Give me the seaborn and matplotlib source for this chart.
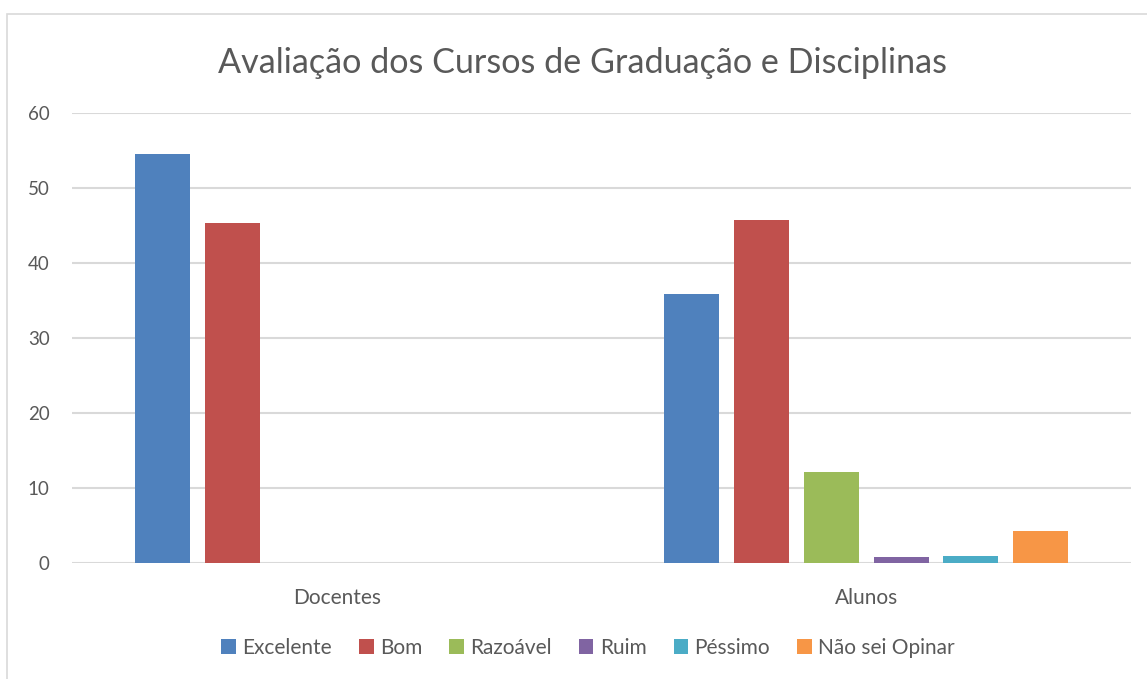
import pandas as pd
import matplotlib.pyplot as plt
import seaborn as sns
from matplotlib.patches import Rectangle

# Data
grupos = ["Docentes", "Alunos"]
respostas = ["Excelente", "Bom", "Razoável", "Ruim", "Péssimo", "Não sei Opinar"]
docentes = [54.5, 45.4, 0, 0, 0, 0]
alunos = [35.9, 45.8, 12.1, 0.8, 0.9, 4.3]
cores = ["#4f81bd", "#c0504d", "#9bbb59", "#8064a2", "#4bacc6", "#f79646"]

df = pd.DataFrame({
    "grupo": [grupos[0]] * len(respostas) + [grupos[1]] * len(respostas),
    "resposta": respostas * 2,
    "valor": docentes + alunos,
})

sns.set_style("white")
plt.rcParams["font.family"] = ["Lato", "DejaVu Sans"]
texto = "#595959"

fig = plt.figure(figsize=(11.47, 6.79), dpi=100)
ax = fig.add_axes([72 / 1147, 1 - 563 / 679, (1131 - 72) / 1147, (563 - 113) / 679])

# grey frame of the chart area
fig.patches.append(Rectangle((7 / 1147, -0.1), 1.2, 1 - 14 / 679 + 0.1,
                             transform=fig.transFigure, fill=False,
                             edgecolor="#d9d9d9", linewidth=1.2, zorder=0))

sns.barplot(data=df, x="grupo", y="valor", hue="resposta", order=grupos,
            hue_order=respostas, palette=cores, saturation=1, width=0.79,
            gap=0.21, linewidth=0, ax=ax, zorder=3)

ax.set_xlim(-0.5, 1.5)
ax.set_ylim(0, 60)
ax.set_yticks(range(0, 61, 10))
ax.grid(axis="y", color="#d9d9d9", linewidth=1.5, zorder=0)
ax.set_axisbelow(True)
for s in ax.spines.values():
    s.set_visible(False)
ax.set_xlabel("")
ax.set_ylabel("")
ax.tick_params(axis="both", length=0, colors=texto)
ax.tick_params(axis="y", pad=16, labelsize=13.5)
ax.tick_params(axis="x", pad=18, labelsize=15)

ax.set_title("Avaliação dos Cursos de Graduação e Disciplinas",
             fontsize=24.6, color=texto, pad=29, x=(583 - 72) / 1059)

ax.legend(loc="center", bbox_to_anchor=(588 / 1147, 1 - 648 / 679),
          bbox_transform=fig.transFigure, ncol=6, frameon=False,
          fontsize=15, labelcolor=texto, handlelength=0.7, handleheight=0.7,
          handletextpad=0.3, columnspacing=1.3)

fig.savefig("out.png", dpi=100)
